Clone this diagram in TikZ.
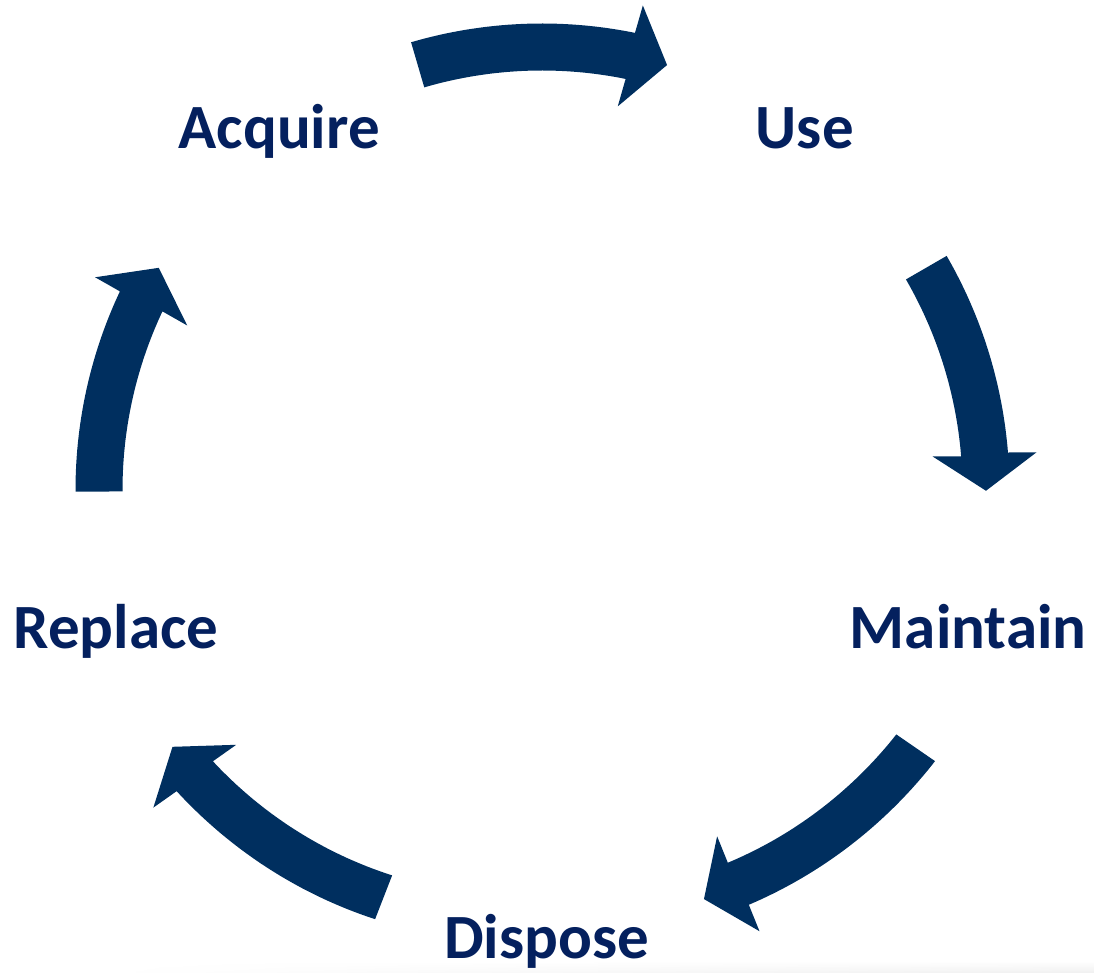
\documentclass[tikz,border=0pt]{standalone}
\usepackage{fontspec}
\setmainfont{Carlito}
\usetikzlibrary{calc, fadings}

\definecolor{arrowblue}{RGB}{0,47,95}
\definecolor{labelblue}{RGB}{4,32,94}

\tikzfading[name=floorfade, left color=transparent!100, middle color=transparent!0, right color=transparent!0]

% curved block arrow: tail angle, head angle, tip angle, tail radius, head radius
\newcommand{\cyclearrow}[5]{
\fill[arrowblue] plot[domain=#1:#2] (\x:{#4+(#5-(#4))*(\x-(#1))/((#2)-(#1))+23.5})
  -- ($(#2:#5)!52pt!90:(#3:#5)$) -- (#3:#5) -- ($(#2:#5)!52pt!-90:(#3:#5)$)
  -- plot[domain=#2:#1] (\x:{#4+(#5-(#4))*(\x-(#1))/((#2)-(#1))-23.5}) -- cycle;
}

\begin{document}
\begin{tikzpicture}[x=1pt,y=1pt,samples=40]

\tikzset{stage/.style = {font=\bfseries\fontsize{63}{75}\selectfont, text=labelblue,
  text height=40pt, text depth=0pt, inner sep=0pt}}
\useasboundingbox (-542,-483) rectangle (553,490);
%floor shadow
\shade[top color=white, bottom color=black!6, path fading=floorfade] (-442,-471) rectangle (553,-483);
%stages
\node[stage] (acquire) at (126:447) {Acquire};
\node[stage] (use) at (54:447) {Use};
\node[stage] (maintain) at (-18:448) {Maintain};
\node[stage] (dispose) at (-89.4:449) {Dispose};
\node[stage] (replace) at (-162:448) {Replace};
%arrows
\cyclearrow{106.3}{78.5}{73.6}{443}{443}
\cyclearrow{30.05}{4.6}{-0.1}{444}{444}
\cyclearrow{-34.6}{-63.5}{-68.4}{454}{440}
\cyclearrow{-111.25}{-140.5}{-145.2}{437}{450}
\cyclearrow{180.2}{154.8}{149.9}{443}{443}

\end{tikzpicture}
\end{document}
